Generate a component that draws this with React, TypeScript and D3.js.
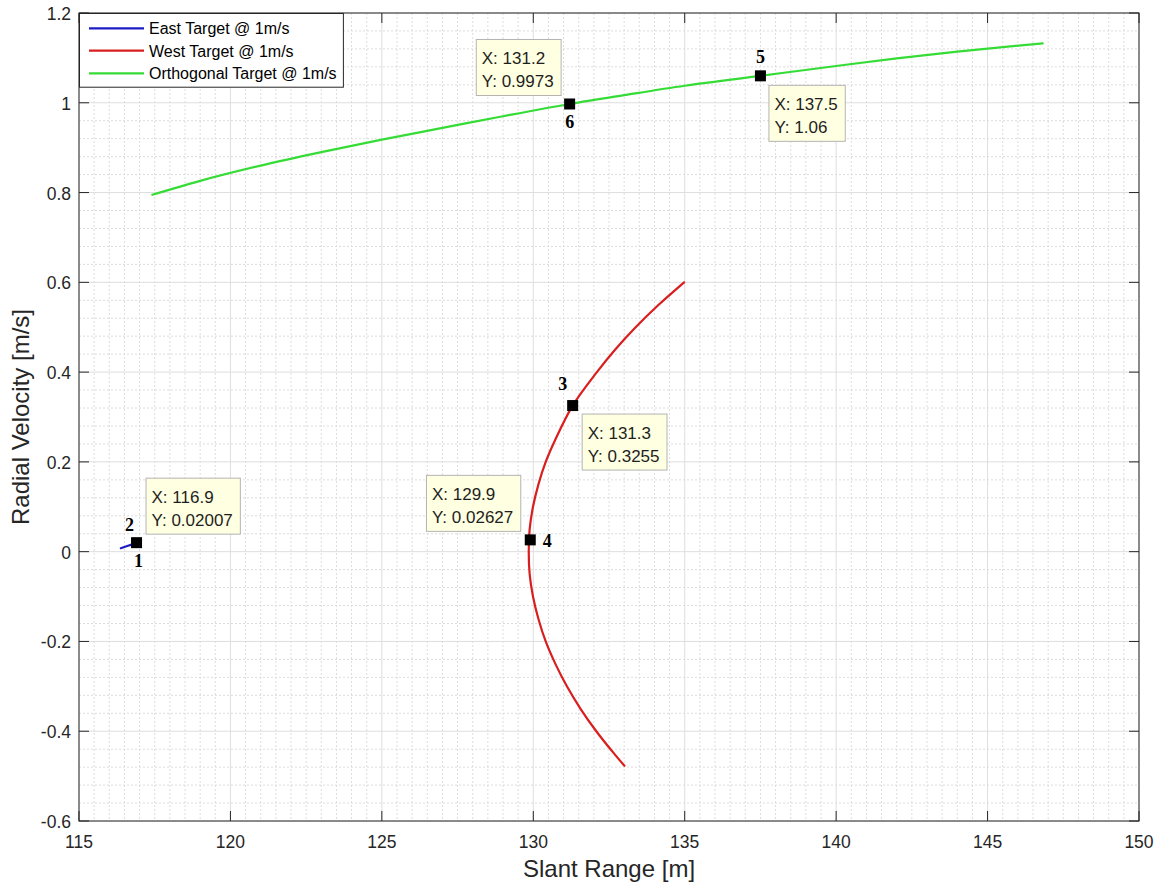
import React, { useMemo } from "react";
import * as d3 from "d3";

// ---- data ----
const xTicks = [115, 120, 125, 130, 135, 140, 145, 150];
const xTickLabels = ["115", "120", "125", "130", "135", "140", "145", "150"];
const yTicks = [-0.6, -0.4, -0.2, 0, 0.2, 0.4, 0.6, 0.8, 1, 1.2];
const yTickLabels = ["-0.6", "-0.4", "-0.2", "0", "0.2", "0.4", "0.6", "0.8", "1", "1.2"];

const eastRange = [116.38, 116.62, 116.9];
const eastVelocity = [0.0076, 0.013, 0.02007];

const westRange = [
  133.01, 132.67, 132.08, 131.56, 131.11, 130.73, 130.41, 130.17, 129.99, 129.88, 129.85,
  129.88, 129.99, 130.17, 130.41, 130.73, 131.3, 132.1, 132.7, 133.38, 134.14, 134.98,
];
const westVelocity = [
  -0.477, -0.45, -0.4, -0.35, -0.3, -0.25, -0.2, -0.15, -0.1, -0.05, 0,
  0.05, 0.1, 0.15, 0.2, 0.25, 0.3255, 0.4, 0.45, 0.5, 0.55, 0.6,
];

const orthoRange = [117.42, 119, 121, 123, 125, 127, 129, 131.2, 133, 135, 137.5, 140, 142, 144, 146.82];
const orthoVelocity = [0.795, 0.826, 0.86, 0.89, 0.918, 0.944, 0.97, 0.9973, 1.017, 1.038, 1.06, 1.082, 1.099, 1.114, 1.1325];

const seriesNames = ["East Target @ 1m/s", "West Target @ 1m/s", "Orthogonal Target @ 1m/s"];
const seriesColors = ["#1c1cc4", "#d81e1e", "#36dc36"];

// data tips
const tipX = [116.9, 131.3, 129.9, 137.5, 131.2];
const tipY = [0.02007, 0.3255, 0.02627, 1.06, 0.9973];
const tipXText = ["116.9", "131.3", "129.9", "137.5", "131.2"];
const tipYText = ["0.02007", "0.3255", "0.02627", "1.06", "0.9973"];

// numbered point annotations, each attached to one data tip
const pointLabels = ["1", "2", "3", "4", "5", "6"];
const pointLabelTip = [0, 0, 1, 2, 3, 4];

// ---- layout ----
const W = 1163;
const H = 885;
const box = { left: 79, right: 1139, top: 13, bottom: 821 };
const SANS = "'Liberation Sans', Arial, Helvetica, sans-serif";
const SERIF = "'Liberation Serif', 'Times New Roman', serif";
const AXIS_COLOR = "#262626";
const TIP_FONT = 17;
const LEGEND_FONT = 16;

// placement of each tip box relative to its marker
const tipPlacement = [
  { side: "ur", gx: 9, gy: 9 },
  { side: "lr", gx: 9, gy: 8 },
  { side: "ul", gx: 10, gy: 9 },
  { side: "lr", gx: 8, gy: 9 },
  { side: "ul", gx: 9, gy: 9 },
];
// offsets of numbered labels (center x, baseline y) from their marker
const pointLabelOffset = [
  [2, 24],
  [-7, -12],
  [-10, -16],
  [17, 7],
  [0, -13],
  [0, 24],
];

function measure(text: string, size: number): number {
  const c = document.createElement("canvas").getContext("2d");
  if (!c) return text.length * size * 0.55;
  c.font = `${size}px 'Liberation Sans', Arial, sans-serif`;
  return c.measureText(text).width;
}

export default function App() {
  const x = d3.scaleLinear().domain([115, 150]).range([box.left, box.right]);
  const y = d3.scaleLinear().domain([-0.6, 1.2]).range([box.bottom, box.top]);

  const minorX = d3.range(0, 71).map((i) => 115 + i * 0.5).filter((v) => !xTicks.some((t) => Math.abs(t - v) < 1e-6));
  const minorY = d3.range(0, 46).map((i) => -0.6 + i * 0.04).filter((v) => !yTicks.some((t) => Math.abs(t - v) < 1e-6));

  // range-driven curves are monotone in x; the west target curve bends back on itself
  const lineX = d3
    .line<[number, number]>()
    .x((d) => x(d[0]))
    .y((d) => y(d[1]))
    .curve(d3.curveMonotoneX);
  const lineCR = d3
    .line<[number, number]>()
    .x((d) => x(d[0]))
    .y((d) => y(d[1]))
    .curve(d3.curveCatmullRom.alpha(0.5));

  const series = [
    eastRange.map((r, i) => [r, eastVelocity[i]] as [number, number]),
    westRange.map((r, i) => [r, westVelocity[i]] as [number, number]),
    orthoRange.map((r, i) => [r, orthoVelocity[i]] as [number, number]),
  ];
  const generators = [lineX, lineCR, lineX];

  const tips = useMemo(
    () =>
      tipX.map((tx, i) => {
        const l1 = `X: ${tipXText[i]}`;
        const l2 = `Y: ${tipYText[i]}`;
        const w = Math.max(measure(l1, TIP_FONT), measure(l2, TIP_FONT)) + 13;
        const h = 56;
        const mx = x(tx);
        const my = y(tipY[i]);
        const p = tipPlacement[i];
        const bx = p.side === "ul" ? mx - p.gx - w : mx + p.gx;
        const by = p.side === "lr" ? my + p.gy : my - p.gy - h;
        return { l1, l2, w, h, mx, my, bx, by };
      }),
    []
  );

  const legendTextW = Math.max(...seriesNames.map((n) => measure(n, LEGEND_FONT)));
  const legendRight = box.left + 70 + legendTextW + 6;
  const legendRows = [28.3, 50.7, 73.3];

  const tickLen = 10;

  return (
    <svg
      width={W}
      height={H}
      viewBox={`0 0 ${W} ${H}`}
      style={{ position: "absolute", left: 0, top: 0, display: "block", background: "#fff" }}
    >
      <rect x={0} y={0} width={W} height={H} fill="#ffffff" />
      <rect x={box.left} y={box.top} width={box.right - box.left} height={box.bottom - box.top} fill="#ffffff" />

      {/* minor grid */}
      <g stroke="#dcdcdc" strokeWidth={1} strokeDasharray="2,2">
        {minorX.map((v, i) => (
          <line key={`mx${i}`} x1={x(v)} x2={x(v)} y1={box.top} y2={box.bottom} />
        ))}
        {minorY.map((v, i) => (
          <line key={`my${i}`} x1={box.left} x2={box.right} y1={y(v)} y2={y(v)} />
        ))}
      </g>
      {/* major grid */}
      <g stroke="#dedede" strokeWidth={1}>
        {xTicks.map((v, i) => (
          <line key={`gx${i}`} x1={x(v)} x2={x(v)} y1={box.top} y2={box.bottom} />
        ))}
        {yTicks.map((v, i) => (
          <line key={`gy${i}`} x1={box.left} x2={box.right} y1={y(v)} y2={y(v)} />
        ))}
      </g>

      {/* series */}
      {series.map((pts, i) => (
        <path
          key={`s${i}`}
          d={generators[i](pts) || ""}
          fill="none"
          stroke={seriesColors[i]}
          strokeWidth={2.2}
          strokeLinecap="round"
          strokeLinejoin="round"
        />
      ))}

      {/* axes box and ticks */}
      <g stroke={AXIS_COLOR} strokeWidth={1} fill="none">
        <rect x={box.left} y={box.top} width={box.right - box.left} height={box.bottom - box.top} />
        {xTicks.map((v, i) => (
          <g key={`tx${i}`}>
            <line x1={x(v)} x2={x(v)} y1={box.bottom} y2={box.bottom - tickLen} />
            <line x1={x(v)} x2={x(v)} y1={box.top} y2={box.top + tickLen} />
          </g>
        ))}
        {yTicks.map((v, i) => (
          <g key={`ty${i}`}>
            <line x1={box.left} x2={box.left + tickLen} y1={y(v)} y2={y(v)} />
            <line x1={box.right} x2={box.right - tickLen} y1={y(v)} y2={y(v)} />
          </g>
        ))}
      </g>

      {/* tick labels */}
      <g fill={AXIS_COLOR} fontFamily={SANS} fontSize={17.5}>
        {xTicks.map((v, i) => (
          <text key={`lx${i}`} x={x(v)} y={box.bottom + 27} textAnchor="middle">
            {xTickLabels[i]}
          </text>
        ))}
        {yTicks.map((v, i) => (
          <text key={`ly${i}`} x={box.left - 8} y={y(v) + 7} textAnchor="end">
            {yTickLabels[i]}
          </text>
        ))}
      </g>

      {/* axis titles */}
      <text x={(box.left + box.right) / 2} y={877} textAnchor="middle" fontFamily={SANS} fontSize={24} fill={AXIS_COLOR}>
        Slant Range [m]
      </text>
      <text
        transform={`translate(29, ${(box.top + box.bottom) / 2}) rotate(-90)`}
        textAnchor="middle"
        fontFamily={SANS}
        fontSize={24}
        fill={AXIS_COLOR}
      >
        Radial Velocity [m/s]
      </text>

      {/* markers */}
      {tips.map((t, i) => (
        <rect key={`m${i}`} x={t.mx - 5.5} y={t.my - 5.5} width={11} height={11} fill="#000" />
      ))}

      {/* numbered labels */}
      {pointLabels.map((lab, i) => {
        const t = tips[pointLabelTip[i]];
        const [dx, dy] = pointLabelOffset[i];
        return (
          <text
            key={`pl${i}`}
            x={t.mx + dx}
            y={t.my + dy}
            textAnchor="middle"
            fontFamily={SERIF}
            fontWeight="bold"
            fontSize={18}
            fill="#000"
          >
            {lab}
          </text>
        );
      })}

      {/* data tips */}
      {tips.map((t, i) => (
        <g key={`tip${i}`}>
          <rect x={t.bx + 0.5} y={t.by + 0.5} width={t.w} height={t.h} fill="#ffffe1" stroke="#b4b4b4" strokeWidth={1} />
          <text x={t.bx + 6} y={t.by + 25} fontFamily={SANS} fontSize={TIP_FONT} fill="#1e1e1e">
            {t.l1}
          </text>
          <text x={t.bx + 6} y={t.by + 48.5} fontFamily={SANS} fontSize={TIP_FONT} fill="#1e1e1e">
            {t.l2}
          </text>
        </g>
      ))}

      {/* legend */}
      <g>
        <rect
          x={box.left + 0.5}
          y={box.top + 0.5}
          width={legendRight - box.left}
          height={86.7 - box.top}
          fill="#ffffff"
          stroke={AXIS_COLOR}
          strokeWidth={1}
        />
        {seriesNames.map((n, i) => (
          <g key={`lg${i}`}>
            <line x1={89} x2={144} y1={legendRows[i]} y2={legendRows[i]} stroke={seriesColors[i]} strokeWidth={2.2} />
            <text x={149} y={legendRows[i] + 6} fontFamily={SANS} fontSize={LEGEND_FONT} fill="#000">
              {n}
            </text>
          </g>
        ))}
      </g>
    </svg>
  );
}
